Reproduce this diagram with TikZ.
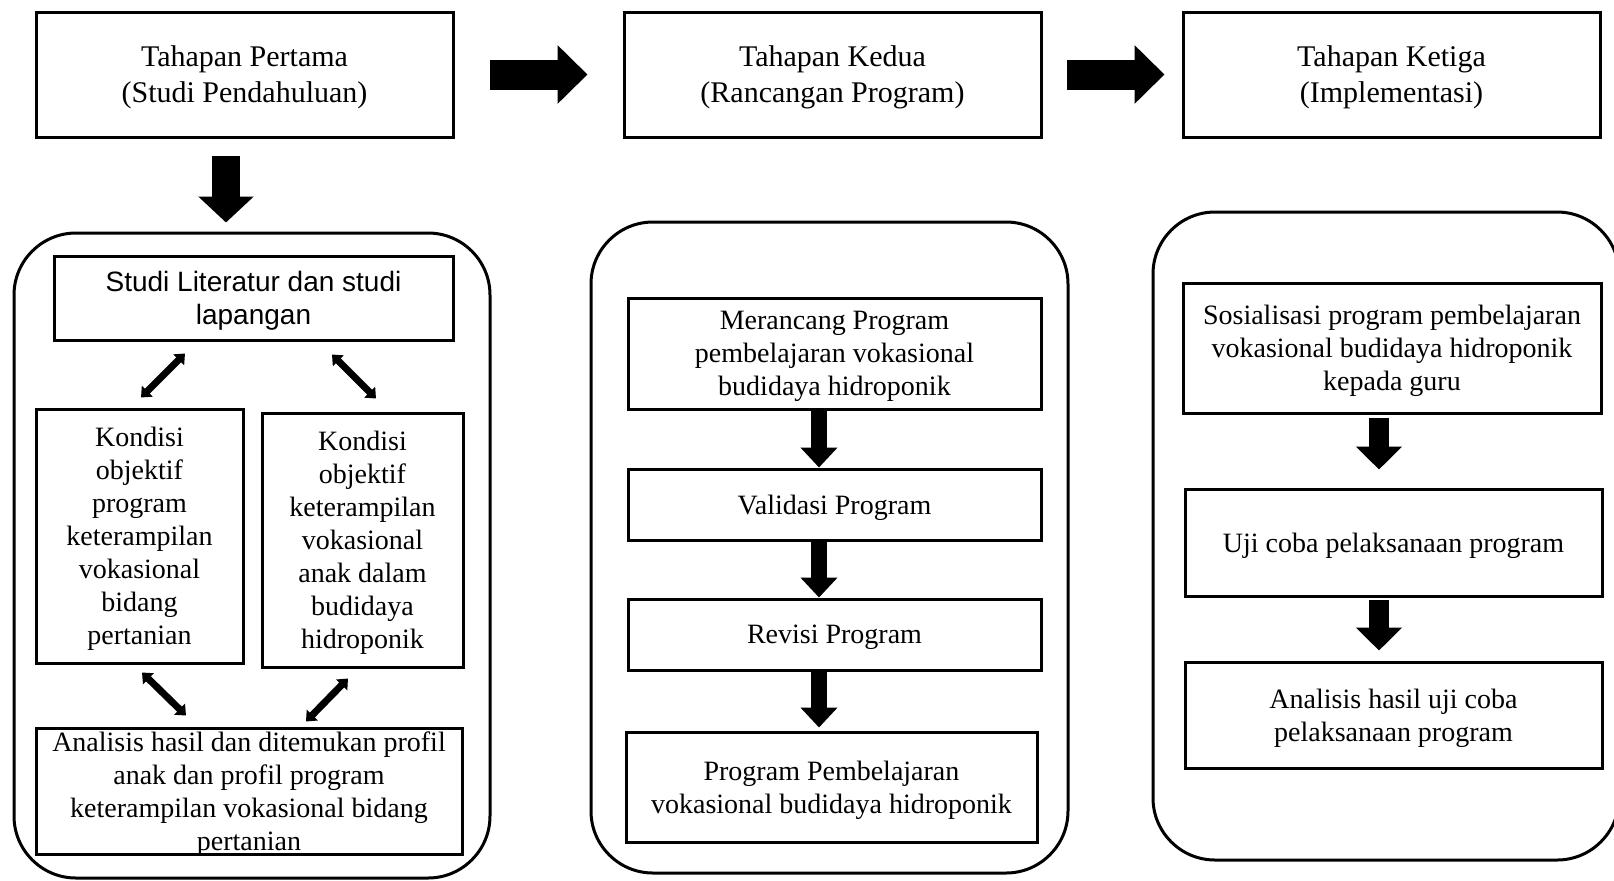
\documentclass[tikz,border=0pt]{standalone}
\usepackage{fontspec}
\setmainfont{Liberation Serif}
\newfontfamily\arialfont{Liberation Sans}
\usetikzlibrary{positioning}
\usetikzlibrary{arrows.meta,calc}
\tikzset{
  stage/.style  = {draw, line width=1.5pt, minimum width=208.5pt, minimum height=62.5pt,
                   align=center, font=\fontsize{15}{18}\selectfont, text depth=-1.2pt},
  group/.style  = {draw, line width=1.5pt, rounded corners=31pt},
  item/.style   = {draw, line width=1.5pt, inner sep=0pt, align=center,
                   font=\fontsize{14}{16.5}\selectfont, text depth=-1pt},
  bigarrow/.style  = {draw, line width=15pt, -{Triangle[length=15pt, width=28.5pt]}},
  downarrow/.style = {draw, line width=14pt, -{Triangle[length=13pt, width=27pt]}},
  midarrow/.style  = {draw, line width=8pt, -{Triangle[length=10pt, width=18pt]}},
  sidearrow/.style = {draw, line width=10pt, -{Triangle[length=11.5pt, width=22.5pt]}},
  twoway/.style    = {draw, line width=3.5pt, {Triangle[length=4.5pt, width=7.5pt]}-{Triangle[length=4.5pt, width=7.5pt]}}
}

\begin{document}
\begin{tikzpicture}[x=0.5pt, y=-0.5pt]
\useasboundingbox (0,0) rectangle (1614,880);
\clip (0,0) rectangle (1614,880);

% tahapan
\node[stage] (t1) at (244.5,74.5) {Tahapan Pertama\\(Studi Pendahuluan)};
\node[stage, right=84pt of t1] (t2) {Tahapan Kedua\\(Rancangan Program)};
\node[stage, right=69.5pt of t2] (t3) {Tahapan Ketiga\\(Implementasi)};

% kelompok
\node[group, minimum width=238pt, minimum height=322.5pt] (g1) at (252,555.5) {};
\node[group, minimum width=238.5pt, minimum height=325.5pt] (g2) at (829.5,547.5) {};
\node[group, minimum width=233pt, minimum height=324pt] (g3) at (1386,536) {};

% studi pendahuluan
\node[item, minimum width=199.5pt, minimum height=42pt, font=\arialfont\fontsize{14}{16.5}\selectfont] (lit) at (253.5,298) {Studi Literatur dan studi\\lapangan};
\node[item, minimum width=103.5pt, minimum height=127pt] (kl) at (139.5,536) {Kondisi\\objektif\\program\\keterampilan\\vokasional\\bidang\\pertanian};
\node[item, minimum width=100.5pt, minimum height=127pt] (kr) at (362.5,540) {Kondisi\\objektif\\keterampilan\\vokasional\\anak dalam\\budidaya\\hidroponik};
\node[item, minimum width=213pt, minimum height=63pt] (an) at (249,791) {Analisis hasil dan ditemukan profil\\anak dan profil program\\keterampilan vokasional bidang\\pertanian};

% rancangan program
\node[item, minimum width=206.5pt, minimum height=55.5pt] (m1) at (834.5,353.5) {Merancang Program\\pembelajaran vokasional\\budidaya hidroponik};
\node[item, minimum width=206.5pt, minimum height=35.5pt] (m2) at (834.5,504.5) {Validasi Program};
\node[item, minimum width=206.5pt, minimum height=35.5pt] (m3) at (834.5,634.5) {Revisi Program};
\node[item, minimum width=205.5pt, minimum height=55pt] (m4) at (831.5,787) {Program Pembelajaran\\vokasional budidaya hidroponik};

% implementasi
\node[item, minimum width=209pt, minimum height=65pt] (s1) at (1392,348) {Sosialisasi program pembelajaran\\vokasional budidaya hidroponik\\kepada guru};
\node[item, minimum width=208.5pt, minimum height=53.5pt] (s2) at (1393.5,542.5) {Uji coba pelaksanaan program};
\node[item, minimum width=208.5pt, minimum height=53pt] (s3) at (1393.5,715) {Analisis hasil uji coba\\pelaksanaan program};

% ujung panah diagonal
\coordinate (d1a) at ($(lit.south)+(-68.5,12)$);
\coordinate (d1b) at ($(kl.north)+(1.5,-10)$);
\coordinate (d2a) at ($(lit.south)+(78.5,13)$);
\coordinate (d2b) at ($(kr.north)+(13.5,-13)$);
\coordinate (d3a) at ($(kl.south)+(2.5,8)$);
\coordinate (d3b) at ($(an.north)+(-63,-11)$);
\coordinate (d4a) at ($(kr.south)+(-14.5,10)$);
\coordinate (d4b) at ($(an.north)+(57,-5)$);

\path [bigarrow, shorten <=17.5pt, shorten >=17.5pt] (t1) -- (t2);
\path [bigarrow, shorten <=12pt, shorten >=8.5pt] (t2) -- (t3);
\path [downarrow, shorten <=8.5pt, shorten >=4.5pt] ([xshift=-9.25pt]t1.south) -- ([xshift=-9.25pt]t1.south |- g1.north);

\path [twoway] (d1a) -- (d1b);
\path [twoway] (d2a) -- (d2b);
\path [twoway] (d3a) -- (d3b);
\path [twoway] (d4a) -- (d4b);

\path [midarrow] ([xshift=-7.75pt]m1.south) -- ([xshift=-7.75pt]m1.south |- m2.north);
\path [midarrow] ([xshift=-7.75pt]m2.south) -- ([xshift=-7.75pt]m2.south |- m3.north);
\path [midarrow, shorten >=1.5pt] ([xshift=-7.75pt]m3.south) -- ([xshift=-7.75pt]m3.south |- m4.north);

\path [sidearrow, shorten <=1.5pt, shorten >=9pt] ([xshift=-6.5pt]s1.south) -- ([xshift=-6.5pt]s1.south |- s2.north);
\path [sidearrow, shorten <=1pt, shorten >=5pt] ([xshift=-7.25pt]s2.south) -- ([xshift=-7.25pt]s2.south |- s3.north);

\end{tikzpicture}
\end{document}
